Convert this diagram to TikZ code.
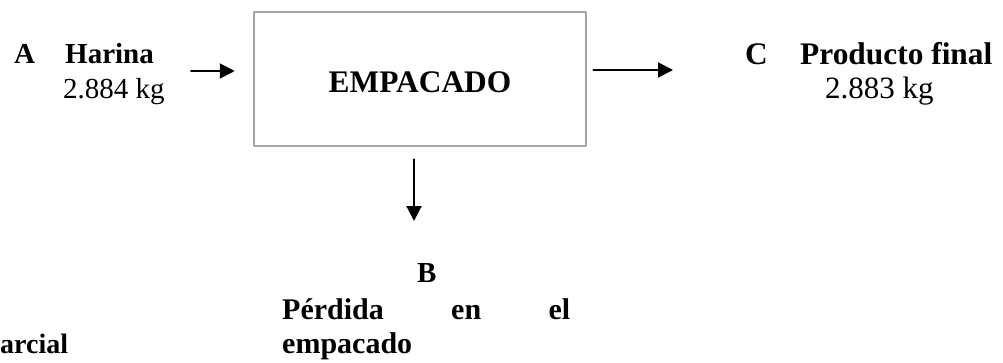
\documentclass[tikz,border=0pt]{standalone}
\usepackage{fontspec}
\setmainfont{Liberation Serif}
\usetikzlibrary{arrows.meta}
\definecolor{boxgray}{RGB}{166,166,166}

\begin{document}
\begin{tikzpicture}[line cap=round,line join=round,>={Triangle[length=15pt,width=15pt]},x=1pt,y=-1pt,
  lbl/.style={anchor=base west,inner sep=0pt},
  flow/.style={->,line width=2pt},
  smallbf/.style={font=\fontsize{29}{35}\selectfont\bfseries},
  smallrm/.style={font=\fontsize{29}{35}\selectfont},
  bigbf/.style={font=\fontsize{31.4}{36}\selectfont\bfseries},
  bigrm/.style={font=\fontsize{31}{36}\selectfont}]
\useasboundingbox (0,0) rectangle (1003,362);
\node[draw=boxgray,line width=2.5pt,minimum width=332pt,minimum height=134pt,text height=28pt,bigbf] (empacado) at (420,79) {EMPACADO};
% entrada A
\node[lbl,smallbf] (codeA) at (14,63) {A};
\node[lbl,smallbf] (harina) at (65,63) {Harina};
\node[lbl,smallrm] (massA) at (63,98) {2.884 kg};
\coordinate (inA) at (191,71);
\draw[flow,shorten >=18pt] (inA) -- (inA -| empacado.west);
% salida C
\coordinate (outC) at (673,70);
\draw[flow,shorten <=6pt] (outC -| empacado.east) -- (outC);
\node[lbl,bigbf] (codeC) at (745,64) {C};
\node[lbl,bigbf] (producto) at (800,64) {Producto final};
\node[lbl,bigrm] (massC) at (825,98) {2.883 kg};
% perdida B
\coordinate (lossB) at (414,221);
\draw[flow,shorten <=12pt] (empacado.south -| lossB) -- (lossB);
\node[lbl,smallbf] (codeB) at (417,282) {B};
\node[anchor=north west,inner sep=0pt,text width=288pt,align=justify,font=\fontsize{30}{34}\selectfont\bfseries] (perdida) at (282,298) {\mbox{Pérdida} en el \mbox{empacado}};
\node[lbl,font=\fontsize{28}{34}\selectfont\bfseries] (parcial) at (0,353) {arcial};
\end{tikzpicture}
\end{document}
